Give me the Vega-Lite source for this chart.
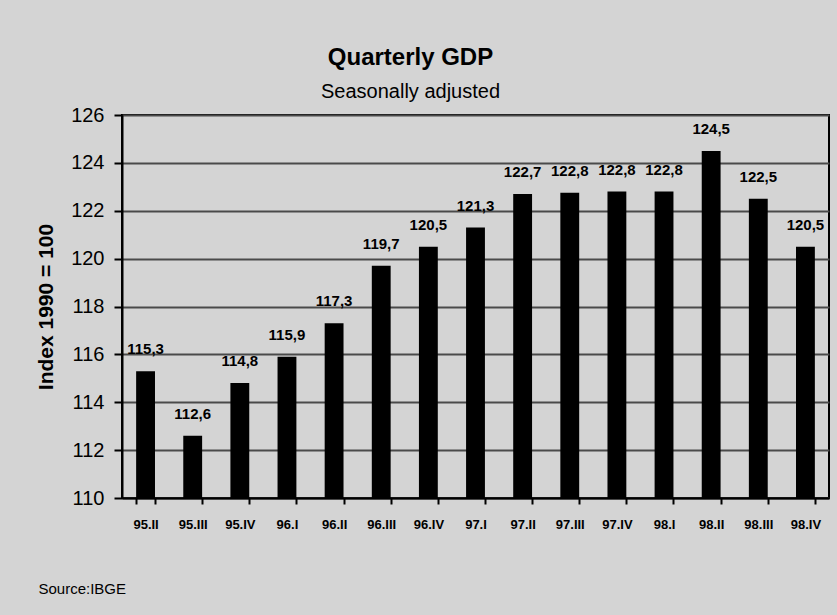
{
  "$schema": "https://vega.github.io/schema/vega-lite/v6.json",
  "autosize": "none",
  "width": 707,
  "height": 383,
  "padding": {"left": 122, "top": 115, "right": 8, "bottom": 117},
  "background": "#d4d4d4",
  "config": {
    "font": "Liberation Sans",
    "view": {"stroke": "#000000", "strokeWidth": 2, "fill": "#d4d4d4"}
  },
  "title": {
    "text": "Quarterly GDP",
    "subtitle": "Seasonally adjusted",
    "anchor": "middle",
    "frame": "group",
    "dx": -65,
    "offset": 3,
    "fontSize": 24,
    "fontWeight": "bold",
    "color": "#000000",
    "subtitleFontSize": 20,
    "subtitleColor": "#000000",
    "subtitlePadding": 12
  },
  "data": {
    "values": [
      {"q": "95.II", "v": 115.3, "label": "115,3"},
      {"q": "95.III", "v": 112.6, "label": "112,6"},
      {"q": "95.IV", "v": 114.8, "label": "114,8"},
      {"q": "96.I", "v": 115.9, "label": "115,9"},
      {"q": "96.II", "v": 117.3, "label": "117,3"},
      {"q": "96.III", "v": 119.7, "label": "119,7"},
      {"q": "96.IV", "v": 120.5, "label": "120,5"},
      {"q": "97.I", "v": 121.3, "label": "121,3"},
      {"q": "97.II", "v": 122.7, "label": "122,7"},
      {"q": "97.III", "v": 122.75, "label": "122,8"},
      {"q": "97.IV", "v": 122.8, "label": "122,8"},
      {"q": "98.I", "v": 122.8, "label": "122,8"},
      {"q": "98.II", "v": 124.5, "label": "124,5"},
      {"q": "98.III", "v": 122.5, "label": "122,5"},
      {"q": "98.IV", "v": 120.5, "label": "120,5"}
    ]
  },
  "encoding": {
    "x": {
      "field": "q",
      "type": "nominal",
      "sort": null,
      "scale": {"paddingInner": 0.6, "paddingOuter": 0.3},
      "axis": {
        "title": "Source:IBGE",
        "titleAnchor": "start",
        "titleX": -84,
        "titleY": 90,
        "titleFontSize": 15,
        "titleFontWeight": "normal",
        "titleColor": "#000000",
        "titleBaseline": "middle",
        "labelAngle": 0,
        "labelFontSize": 13,
        "labelFontWeight": "bold",
        "labelColor": "#000000",
        "labelPadding": 14,
        "tickBand": "extent",
        "tickColor": "#000000",
        "tickWidth": 2,
        "tickSize": 6,
        "domainColor": "#000000",
        "domainWidth": 2,
        "grid": false
      }
    },
    "y": {
      "field": "v",
      "type": "quantitative",
      "scale": {"domain": [110, 126], "zero": false, "nice": false},
      "axis": {
        "title": "Index 1990 = 100",
        "titleFontSize": 21,
        "titleFontWeight": "bold",
        "titleColor": "#000000",
        "titlePadding": 14,
        "values": [110, 112, 114, 116, 118, 120, 122, 124, 126],
        "labelFontSize": 20,
        "labelColor": "#000000",
        "labelPadding": 10,
        "tickSize": 8,
        "tickColor": "#000000",
        "tickWidth": 2,
        "domainColor": "#000000",
        "domainWidth": 2,
        "grid": true,
        "gridColor": "#4a4a4a",
        "gridWidth": 2,
        "gridOpacity": 1
      }
    }
  },
  "layer": [
    {
      "mark": {"type": "bar", "color": "#000000"},
      "encoding": {"y2": {"datum": 110}}
    },
    {
      "mark": {
        "type": "text",
        "baseline": "bottom",
        "dy": -14,
        "fontSize": 15,
        "fontWeight": "bold",
        "color": "#000000"
      },
      "encoding": {"text": {"field": "label"}}
    }
  ]
}
